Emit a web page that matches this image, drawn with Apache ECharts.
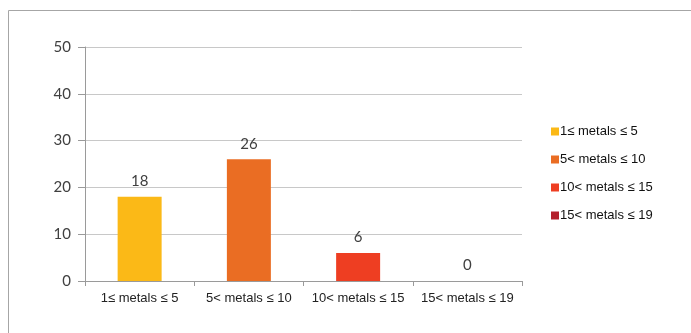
<!DOCTYPE html>
<html>
<head>
<meta charset="utf-8">
<script src="https://cdn.jsdelivr.net/npm/echarts@6/dist/echarts.min.js"></script>
<style>
  html, body { margin: 0; padding: 0; background: #fff; }
  #chart { width: 691px; height: 333px; }
</style>
</head>
<body>
<div id="chart"></div>
<script>
// Number of compounds per metal-count bin
const categories = ['1≤ metals ≤ 5', '5< metals ≤ 10', '10< metals ≤ 15', '15< metals ≤ 19'];
const counts = [18, 26, 6, 0];
const colors = ['#FBB917', '#EA6D23', '#EE3E22', '#B3202B'];
const yTicks = { min: 0, max: 50, interval: 10 };

// One series per bin so each gets its own legend entry; stacking keeps them centred
const series = categories.map((name, i) => ({
  name: name,
  type: 'bar',
  stack: 'bins',
  barWidth: 44,
  data: counts.map((v, j) => (j === i ? v : '-')),
  itemStyle: { color: colors[i] },
  label: {
    show: true,
    position: 'top',
    distance: 8,
    fontFamily: 'Lato, "Open Sans", sans-serif',
    fontSize: 15,
    color: '#404040'
  }
}));

const chart = echarts.init(document.getElementById('chart'), null, { renderer: 'canvas' });
chart.setOption({
  animation: false,
  backgroundColor: '#fff',
  graphic: [{
    type: 'rect',
    shape: { x: 8.5, y: 10.5, width: 720, height: 400 },
    style: { fill: 'none', stroke: '#a6a6a6', lineWidth: 1 },
    silent: true
  }],
  grid: { left: 85, right: 169, top: 47, bottom: 52 },
  legend: {
    orient: 'vertical',
    left: 546,
    top: 120,
    itemWidth: 8,
    itemHeight: 8,
    itemGap: 15,
    icon: 'rect',
    data: categories,
    textStyle: {
      fontFamily: '"Liberation Sans", Arial, sans-serif',
      fontSize: 13,
      color: '#111',
      padding: [0, 0, 0, -4]
    }
  },
  xAxis: {
    type: 'category',
    data: categories,
    axisLine: { lineStyle: { color: '#9a9a9a', width: 1 } },
    axisTick: { show: true, interval: 0, length: 5, lineStyle: { color: '#9a9a9a' } },
    axisLabel: {
      interval: 0,
      margin: 11,
      fontFamily: '"Liberation Sans", Arial, sans-serif',
      fontSize: 13,
      color: '#222'
    }
  },
  yAxis: {
    type: 'value',
    min: yTicks.min,
    max: yTicks.max,
    interval: yTicks.interval,
    axisLine: { show: true, lineStyle: { color: '#9a9a9a', width: 1 } },
    axisTick: { show: true, length: 7, lineStyle: { color: '#9a9a9a' } },
    splitLine: { show: true, lineStyle: { color: '#c8c8c8', width: 1 } },
    axisLabel: {
      margin: 14,
      fontFamily: 'Lato, "Open Sans", sans-serif',
      fontSize: 15,
      color: '#404040'
    }
  },
  series: series
});
</script>
</body>
</html>
